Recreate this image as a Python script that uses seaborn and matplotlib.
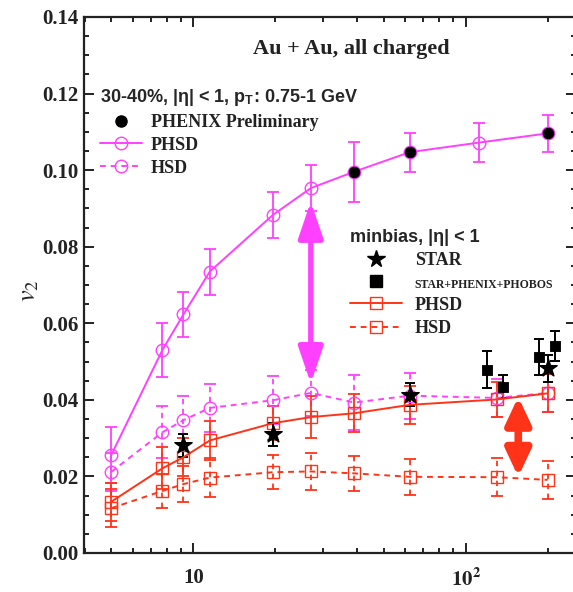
import numpy as np
import pandas as pd
import matplotlib
matplotlib.use("Agg")
import matplotlib.pyplot as plt
import seaborn as sns
from matplotlib.lines import Line2D
from matplotlib.patches import FancyArrowPatch
from matplotlib.font_manager import FontProperties
from matplotlib.ticker import FixedLocator, FixedFormatter, LogLocator, MultipleLocator, NullFormatter

# ---------------- data ----------------
phsd30_x = [5, 7.7, 9.2, 11.5, 19.6, 27, 39, 62.4, 112, 200]
phsd30_v2 = [0.0256, 0.0530, 0.0623, 0.0735, 0.0883, 0.0953, 0.0996, 0.1047, 0.1072, 0.1096]
phsd30_err = [0.0072, 0.0070, 0.0060, 0.0060, 0.0060, 0.0060, 0.0078, 0.0051, 0.0051, 0.0049]

hsd30_x = [5, 7.7, 9.2, 11.5, 19.6, 27, 39, 62.4, 130, 200]
hsd30_v2 = [0.0212, 0.0315, 0.0347, 0.0379, 0.0399, 0.0418, 0.0393, 0.0411, 0.0405, 0.0418]
hsd30_err = [0.0050, 0.0068, 0.0063, 0.0062, 0.0063, 0.0060, 0.0072, 0.0060, 0.0050, 0.0050]

phenix_x = [39, 62.4, 200]
phenix_v2 = [0.0996, 0.1047, 0.1096]

phsd_mb_x = [5, 7.7, 9.2, 11.5, 19.6, 27, 39, 62.4, 130, 200]
phsd_mb_v2 = [0.0134, 0.0221, 0.0250, 0.0294, 0.0339, 0.0355, 0.0365, 0.0387, 0.0401, 0.0417]
phsd_mb_err = [0.0050, 0.0055, 0.0050, 0.0050, 0.0045, 0.0055, 0.0050, 0.0050, 0.0045, 0.0050]

hsd_mb_x = [5, 7.7, 9.2, 11.5, 19.6, 27, 39, 62.4, 130, 200]
hsd_mb_v2 = [0.0117, 0.0162, 0.0180, 0.0197, 0.0211, 0.0213, 0.0208, 0.0199, 0.0198, 0.0191]
hsd_mb_err = [0.0050, 0.0045, 0.0046, 0.0050, 0.0045, 0.0048, 0.0045, 0.0047, 0.0050, 0.0050]

star_x = [9.2, 19.6, 62.4, 200]
star_v2 = [0.0282, 0.0310, 0.0413, 0.0482]
star_err = [0.0030, 0.0030, 0.0030, 0.0035]

spp_x = [120, 137, 186, 212]
spp_v2 = [0.0479, 0.0434, 0.0511, 0.0541]
spp_err = [0.0048, 0.0030, 0.0047, 0.0040]

# annotation arrows (x, y_top, y_bottom)
arrow_mag = (27, 0.0918, 0.0443)
arrow_red = (156, 0.0408, 0.0199)

xticks_major = [10, 100]
xtick_labels = ["10", r"$\mathbf{10^2}$"]

MAG = "#ff40ff"
RED = "#ff3318"

# ---------------- style ----------------
sns.set_theme(style="ticks")
plt.rcParams["font.family"] = ["Liberation Serif", "DejaVu Serif"]
plt.rcParams["mathtext.fontset"] = "stix"
plt.rcParams["axes.linewidth"] = 1.6

fig = plt.figure(figsize=(5.73, 5.92), dpi=100)
ax = fig.add_axes([84 / 573, 39 / 592, 492.4 / 573, 536 / 592])
ax.set_facecolor("white")
fig.patch.set_facecolor("white")

# ---------------- error bars ----------------
def ebar(x, y, e, color, dashed=False, cap=4.3, lw=1.3):
    c = ax.errorbar(x, y, yerr=e, fmt="none", ecolor=color, elinewidth=lw,
                    capsize=cap, capthick=lw, zorder=2)
    if dashed:
        for lc in c[2]:
            lc.set_linestyle((0, (3, 2.5)))
    return c

ebar(phsd30_x, phsd30_v2, phsd30_err, MAG)
ebar(hsd30_x, hsd30_v2, hsd30_err, MAG, dashed=True)
ebar(phsd_mb_x, phsd_mb_v2, phsd_mb_err, RED)
ebar(hsd_mb_x, hsd_mb_v2, hsd_mb_err, RED, dashed=True)
ebar(star_x, star_v2, star_err, "black", cap=3.5, lw=1.4)
ebar(spp_x, spp_v2, spp_err, "black", cap=3.5, lw=1.4)

# ---------------- model curves ----------------
sns.lineplot(x=phsd30_x, y=phsd30_v2, ax=ax, color=MAG, lw=1.4, marker="o", ms=9,
             mfc="none", mec=MAG, mew=1.0, estimator=None, sort=False, zorder=3)
sns.lineplot(x=hsd30_x, y=hsd30_v2, ax=ax, color=MAG, lw=1.4, linestyle=(0, (3, 2.5)),
             marker="o", ms=9, mfc="none", mec=MAG, mew=1.0, estimator=None, sort=False, zorder=3)
sns.lineplot(x=phsd_mb_x, y=phsd_mb_v2, ax=ax, color=RED, lw=1.4, marker="s", ms=8,
             mfc="none", mec=RED, mew=1.0, estimator=None, sort=False, zorder=3)
sns.lineplot(x=hsd_mb_x, y=hsd_mb_v2, ax=ax, color=RED, lw=1.4, linestyle=(0, (3, 2.5)),
             marker="s", ms=8, mfc="none", mec=RED, mew=1.0, estimator=None, sort=False, zorder=3)

# ---------------- data points ----------------
sns.scatterplot(x=phenix_x, y=phenix_v2, ax=ax, color="black", marker="o", s=60,
                edgecolor="black", zorder=5)
sns.scatterplot(x=star_x, y=star_v2, ax=ax, color="black", marker="*", s=170,
                edgecolor="black", zorder=5)
sns.scatterplot(x=spp_x, y=spp_v2, ax=ax, color="black", marker="s", s=60,
                edgecolor="black", zorder=5)

# ---------------- arrows ----------------
ax.add_patch(FancyArrowPatch((arrow_mag[0], arrow_mag[1]), (arrow_mag[0], arrow_mag[2]),
                             arrowstyle="<|-|>,head_length=2.2,head_width=0.75",
                             mutation_scale=10, lw=3.8, color=MAG, shrinkA=0, shrinkB=0,
                             zorder=6))
ax.add_patch(FancyArrowPatch((arrow_red[0], arrow_red[1]), (arrow_red[0], arrow_red[2]),
                             arrowstyle="<|-|>,head_length=1.6,head_width=0.75",
                             mutation_scale=10, lw=5.5, color=RED, shrinkA=0, shrinkB=0,
                             zorder=6))

# ---------------- axes ----------------
ax.set_xscale("log")
ax.set_xlim(3.97, 255)
ax.set_ylim(0, 0.14)
ax.xaxis.set_major_locator(FixedLocator(xticks_major))
ax.xaxis.set_major_formatter(FixedFormatter(xtick_labels))
ax.xaxis.set_minor_locator(LogLocator(base=10, subs=np.arange(2, 10)))
ax.xaxis.set_minor_formatter(NullFormatter())
ax.yaxis.set_major_locator(MultipleLocator(0.02))
ax.yaxis.set_minor_locator(MultipleLocator(0.005))
ax.yaxis.set_major_formatter(plt.FuncFormatter(lambda v, p: f"{v:.2f}"))
ax.tick_params(which="both", direction="in", top=True, right=True, width=1.4, color="#222222")
ax.tick_params(which="major", length=7)
ax.tick_params(which="minor", length=3.5)
ax.tick_params(axis="y", which="major", pad=4)
ax.tick_params(axis="x", which="major", pad=11)
for lab in ax.get_xticklabels() + ax.get_yticklabels():
    lab.set_fontweight("bold")
    lab.set_fontsize(15)
    lab.set_color("#222222")
for sp in ax.spines.values():
    sp.set_color("#222222")

ax.set_ylabel(r"$v_2$", fontsize=19, color="#222222")
ax.yaxis.set_label_coords(-0.088, 0.49)

# ---------------- texts & legends ----------------
ax.text(0.543, 0.940, "Au + Au, all charged", transform=ax.transAxes, ha="center",
        va="center", fontsize=16, fontweight="bold", color="#222222")

serif_b = FontProperties(family="Liberation Serif", weight="bold", size=13)
sans_b = FontProperties(family="Liberation Sans", weight="bold", size=13)

h1 = [Line2D([], [], color="black", marker="o", ms=8, ls="none"),
      Line2D([], [], color=MAG, lw=1.4, marker="o", ms=9, mfc="none", mec=MAG),
      Line2D([], [], color=MAG, lw=1.4, ls=(0, (3, 2.5)), marker="o", ms=9, mfc="none", mec=MAG)]
leg1 = ax.legend(h1, ["PHENIX Preliminary", "PHSD", "HSD"], loc="upper left",
                 bbox_to_anchor=(0.033, 0.869), frameon=False, prop=serif_b,
                 title=r"30-40%, |η| < 1, p$_\mathregular{T}$: 0.75-1 GeV",
                 title_fontproperties=sans_b, alignment="left", handlelength=2.3,
                 handletextpad=0.5, labelspacing=0.32, borderpad=0, borderaxespad=0)
ax.add_artist(leg1)

h2 = [Line2D([], [], color="black", marker="*", ms=13, ls="none"),
      Line2D([], [], color="black", marker="s", ms=8, ls="none"),
      Line2D([], [], color=RED, lw=1.4, marker="s", ms=8, mfc="none", mec=RED),
      Line2D([], [], color=RED, lw=1.4, ls=(0, (3, 2.5)), marker="s", ms=8, mfc="none", mec=RED)]
leg2 = ax.legend(h2, ["STAR", "STAR+PHENIX+PHOBOS", "PHSD", "HSD"], loc="upper left",
                 bbox_to_anchor=(0.54, 0.605), frameon=False, prop=serif_b,
                 title="minbias, |η| < 1", title_fontproperties=sans_b, alignment="left",
                 handlelength=2.9, handletextpad=0.7, labelspacing=0.34, borderpad=0,
                 borderaxespad=0)
leg2.get_texts()[1].set_fontsize(8.5)
for t in leg1.get_texts() + leg2.get_texts():
    t.set_color("#222222")

fig.savefig("out.png", dpi=100, facecolor="white")
